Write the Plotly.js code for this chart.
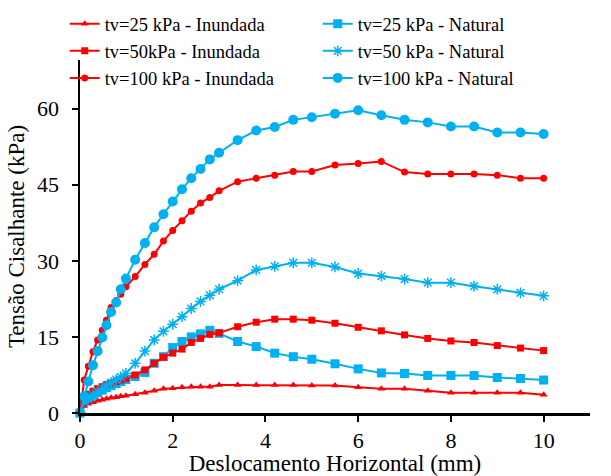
<!DOCTYPE html>
<html>
<head>
<meta charset="utf-8">
<script src="https://cdn.plot.ly/plotly-3.0.1.min.js"></script>
<style>
html,body{margin:0;padding:0;background:#fff;}
#chart{width:611px;height:476px;}
</style>
</head>
<body>
<div id="chart"></div>
<script>
// Horizontal displacement (mm)
const deslocamento = [0, 0.09, 0.18, 0.28, 0.38, 0.48, 0.57, 0.67, 0.78, 0.88, 0.99, 1.19, 1.4, 1.6, 1.8, 2.0, 2.2, 2.4, 2.6, 2.8, 3.0, 3.4, 3.8, 4.2, 4.6, 5.0, 5.5, 6.0, 6.5, 7.0, 7.5, 8.0, 8.5, 9.0, 9.5, 10.0];

// Shear stress (kPa)
const tv25Inundada = [0, 1.4, 1.8, 2.1, 2.4, 2.6, 2.8, 3.0, 3.1, 3.3, 3.4, 3.7, 4.0, 4.4, 4.8, 4.9, 5.1, 5.2, 5.2, 5.2, 5.5, 5.5, 5.5, 5.5, 5.5, 5.4, 5.4, 5.1, 4.8, 4.8, 4.4, 4.0, 4.0, 4.0, 4.0, 3.6];
const tv50Inundada = [0, 3.0, 3.7, 4.3, 4.8, 5.2, 5.6, 5.9, 6.2, 6.5, 6.8, 7.5, 8.5, 9.8, 11.0, 11.8, 12.6, 13.9, 14.7, 15.5, 15.8, 17.0, 17.9, 18.5, 18.5, 18.3, 17.7, 16.9, 16.2, 15.4, 14.7, 14.2, 13.9, 13.3, 12.8, 12.3];
const tv100Inundada = [0, 6.5, 9.2, 12.1, 14.4, 16.3, 18.3, 20.8, 22.2, 23.4, 24.9, 26.9, 29.3, 31.3, 33.9, 36.0, 37.9, 39.8, 41.4, 42.5, 43.8, 45.6, 46.3, 46.9, 47.6, 47.6, 48.9, 49.2, 49.6, 47.5, 47.1, 47.1, 47.1, 46.9, 46.3, 46.3];
const tv25Natural = [0, 2.5, 3.0, 3.5, 4.0, 4.5, 5.0, 5.4, 5.8, 6.2, 6.6, 7.2, 8.0, 9.8, 11.1, 12.9, 14.1, 15.0, 15.6, 16.3, 15.7, 14.1, 13.1, 11.8, 11.1, 10.6, 9.7, 8.7, 7.9, 7.8, 7.4, 7.4, 7.4, 7.0, 6.8, 6.5];
const tv50Natural = [0, 2.4, 3.0, 3.6, 4.2, 4.8, 5.4, 6.0, 6.6, 7.1, 7.8, 9.8, 12.2, 14.4, 16.1, 17.5, 19.0, 20.6, 22.0, 23.2, 24.4, 26.1, 28.2, 28.9, 29.6, 29.6, 28.8, 27.5, 27.0, 26.4, 25.7, 25.7, 25.0, 24.4, 23.7, 23.1];
const tv100Natural = [0, 3.3, 6.2, 9.4, 12.2, 14.9, 17.3, 19.9, 21.8, 24.4, 26.5, 30.2, 33.5, 36.6, 39.2, 41.7, 44.1, 46.3, 48.1, 50.0, 51.3, 53.8, 55.7, 56.4, 57.8, 58.3, 59.0, 59.7, 58.7, 57.8, 57.3, 56.5, 56.5, 55.3, 55.3, 55.0];

const names = [
  "tv=25 kPa - Inundada", "tv=25 kPa - Natural",
  "tv=50kPa - Inundada", "tv=50 kPa - Natural",
  "tv=100 kPa - Inundada", "tv=100 kPa - Natural"
];
const xTicks = [0, 2, 4, 6, 8, 10];
const yTicks = [0, 15, 30, 45, 60];
const xTitle = "Deslocamento Horizontal (mm)";
const yTitle = "Tensão Cisalhante (kPa)";

const RED = "#FF0000", BLUE = "#00B0F0";
function tr(name, y, color, symbol, size, lw) {
  return {
    x: deslocamento, y: y, name: name, type: "scatter", mode: "lines+markers",
    line: {color: color, width: 2},
    marker: {color: color, symbol: symbol, size: size, line: {color: color, width: lw || 0}},
    cliponaxis: false
  };
}
const data = [
  tr(names[0], tv25Inundada, RED, "triangle-up", 7),
  tr(names[1], tv25Natural, BLUE, "square", 9),
  tr(names[2], tv50Inundada, RED, "square", 7),
  tr(names[3], tv50Natural, BLUE, "asterisk-open", 9, 1.5),
  tr(names[4], tv100Inundada, RED, "circle", 7),
  tr(names[5], tv100Natural, BLUE, "circle", 10)
];

const FAM = "Liberation Serif, Times New Roman, serif";
const f = (s) => ({family: FAM, size: s, color: "#000"});
const layout = {
  width: 611, height: 476,
  margin: {l: 80, r: 21, t: 60, b: 63, autoexpand: false},
  paper_bgcolor: "#fff", plot_bgcolor: "#fff",
  font: f(20),
  showlegend: true,
  legend: {
    orientation: "h", x: -0.03, xanchor: "left", y: 1.155, yanchor: "top",
    entrywidth: 208, entrywidthmode: "pixels",
    font: f(18.5),
    bgcolor: "rgba(0,0,0,0)", traceorder: "normal", tracegroupgap: 0
  },
  xaxis: {
    range: [0, 11], tickvals: xTicks, ticktext: xTicks.map(String),
    showline: true, linecolor: "#000", linewidth: 2.5,
    ticks: "outside", ticklen: 6, tickwidth: 2, tickcolor: "#000",
    showgrid: false, zeroline: false,
    tickfont: f(22),
    title: {text: xTitle, font: f(23), standoff: 0},
    automargin: false
  },
  yaxis: {
    range: [0, 69.6], tickvals: yTicks, ticktext: yTicks.map(String),
    showline: true, linecolor: "#000", linewidth: 2.5,
    ticks: "outside", ticklen: 6, tickwidth: 2, tickcolor: "#000",
    ticklabelstandoff: 8,
    showgrid: false, zeroline: false,
    tickfont: f(22),
    title: {text: yTitle, font: f(23), standoff: 6},
    automargin: false
  }
};
Plotly.newPlot("chart", data, layout, {displayModeBar: false, staticPlot: true});
</script>
</body>
</html>
